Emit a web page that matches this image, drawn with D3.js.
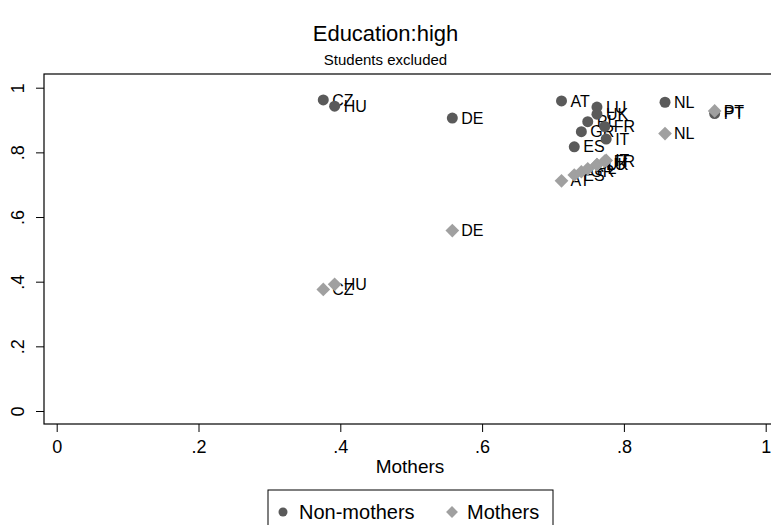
<!DOCTYPE html>
<html>
<head>
<meta charset="utf-8">
<script src="https://cdn.jsdelivr.net/npm/d3@7"></script>
<style>
  html, body { margin: 0; padding: 0; background: #fff; }
  svg { display: block; font-family: "Liberation Sans", Arial, sans-serif; }
</style>
</head>
<body>
<svg id="chart" width="771" height="525"></svg>
<script>
// Country codes and rates for highly educated women
const countries = ["CZ", "HU", "DE", "AT", "ES", "GR", "PL", "LU", "UK", "FR", "IT", "NL", "PT"];
const mothers = [0.376, 0.392, 0.558, 0.712, 0.730, 0.740, 0.749, 0.762, 0.762, 0.773, 0.775, 0.858, 0.928];
const nonMothers = [0.962, 0.943, 0.906, 0.959, 0.817, 0.864, 0.895, 0.940, 0.918, 0.880, 0.841, 0.955, 0.920];
const xTicks = [0, 0.2, 0.4, 0.6, 0.8, 1];
const yTicks = [0, 0.2, 0.4, 0.6, 0.8, 1];
const tickFmt = v => v === 0 ? "0" : v === 1 ? "1" : String(v).replace(/^0/, "");

const svg = d3.select("#chart");
const box = { left: 44, top: 74, right: 777, bottom: 424 };

const x = d3.scaleLinear().domain([0, 1]).range([56.7, 765.7]);
const y = d3.scaleLinear().domain([0, 1]).range([411, 87.7]);

// Titles
svg.append("text").attr("x", 385.5).attr("y", 41).attr("text-anchor", "middle")
  .attr("font-size", 22).text("Education:high");
svg.append("text").attr("x", 385.5).attr("y", 65).attr("text-anchor", "middle")
  .attr("font-size", 15).text("Students excluded");

// Plot region frame
svg.append("rect").attr("x", box.left).attr("y", box.top)
  .attr("width", box.right - box.left).attr("height", box.bottom - box.top)
  .attr("fill", "none").attr("stroke", "#000").attr("stroke-width", 1.2);

// Axes
const yAxis = svg.append("g").attr("transform", `translate(${box.left},0)`)
  .call(d3.axisLeft(y).tickValues(yTicks).tickSize(8).tickFormat(tickFmt));
yAxis.select(".domain").remove();
yAxis.selectAll(".tick line").attr("stroke", "#000");
yAxis.selectAll(".tick text")
  .attr("font-size", 18).attr("font-family", "Liberation Sans, Arial, sans-serif")
  .attr("fill", "#000")
  .attr("text-anchor", "middle")
  .attr("x", null)
  .attr("transform", "translate(-26,0) rotate(-90)")
  .attr("dy", "0.35em");

const xAxis = svg.append("g").attr("transform", `translate(0,${box.bottom})`)
  .call(d3.axisBottom(x).tickValues(xTicks).tickSize(8).tickPadding(8).tickFormat(tickFmt));
xAxis.select(".domain").remove();
xAxis.selectAll(".tick line").attr("stroke", "#000");
xAxis.selectAll(".tick text")
  .attr("font-size", 18).attr("font-family", "Liberation Sans, Arial, sans-serif")
  .attr("fill", "#000");

svg.append("text").attr("x", 410).attr("y", 473).attr("text-anchor", "middle")
  .attr("font-size", 19).text("Mothers");

// Points
const rows = countries.map((c, i) => ({ c, m: mothers[i], n: nonMothers[i] }));
const darkGrey = "#5a5a5a";
const lightGrey = "#a0a0a0";
const diamond = d3.symbol().type(d3.symbolDiamond2).size(120);

const g1 = svg.append("g");
rows.forEach(d => {
  g1.append("circle").attr("cx", x(d.m)).attr("cy", y(d.n)).attr("r", 5.5).attr("fill", darkGrey);
  g1.append("text").attr("x", x(d.m) + 9).attr("y", y(d.n)).attr("dy", "0.35em")
    .attr("font-size", 16).text(d.c);
});

const g2 = svg.append("g");
rows.forEach(d => {
  g2.append("path").attr("d", diamond).attr("transform", `translate(${x(d.m)},${y(d.m)})`)
    .attr("fill", lightGrey);
  g2.append("text").attr("x", x(d.m) + 9).attr("y", y(d.m)).attr("dy", "0.35em")
    .attr("font-size", 16).text(d.c);
});

// Legend
const lg = svg.append("g");
lg.append("rect").attr("x", 268).attr("y", 490).attr("width", 285).attr("height", 50)
  .attr("fill", "#fff").attr("stroke", "#000").attr("stroke-width", 1);
lg.append("circle").attr("cx", 283).attr("cy", 512).attr("r", 4.5).attr("fill", darkGrey);
lg.append("text").attr("x", 299).attr("y", 512).attr("dy", "0.35em").attr("font-size", 20).text("Non-mothers");
lg.append("path").attr("d", d3.symbol().type(d3.symbolDiamond2).size(90))
  .attr("transform", "translate(452,512)").attr("fill", lightGrey);
lg.append("text").attr("x", 467).attr("y", 512).attr("dy", "0.35em").attr("font-size", 20).text("Mothers");
</script>
</body>
</html>
